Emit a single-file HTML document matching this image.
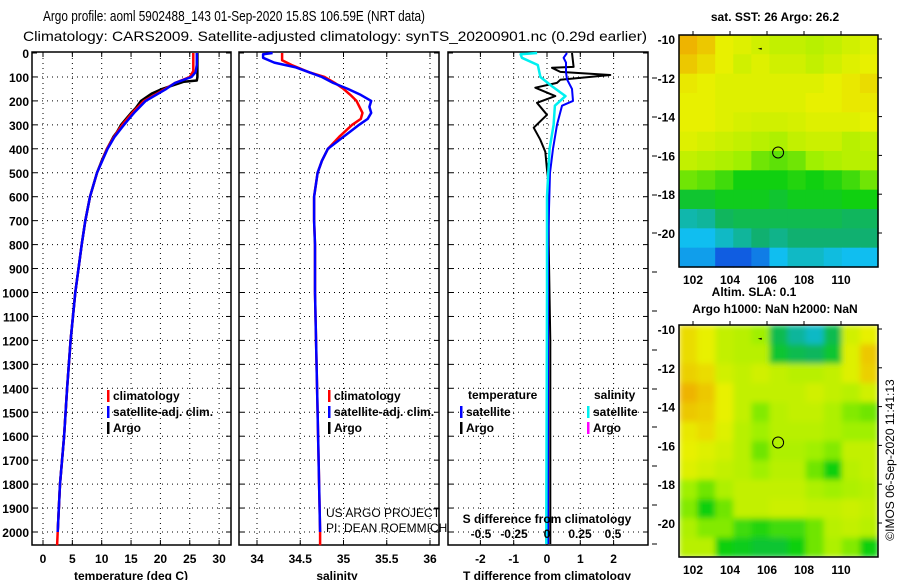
<!DOCTYPE html>
<html><head><meta charset="utf-8"><style>
html,body{margin:0;padding:0;background:#fff;}
svg{display:block;font-family:"Liberation Sans",sans-serif;}
.t{font-size:12px;font-weight:bold;fill:#000;}
</style></head><body>
<svg id="s" width="900" height="580" viewBox="0 0 900 580" xmlns="http://www.w3.org/2000/svg">
<defs>
<filter id="blur" x="0" y="0" width="1" height="1"><feGaussianBlur stdDeviation="3" edgeMode="duplicate"/></filter>
<clipPath id="clip2"><rect x="679" y="325" width="199" height="232"/></clipPath>
</defs>
<text x="234" y="21" text-anchor="middle" font-size="15" textLength="382" lengthAdjust="spacingAndGlyphs">Argo profile: aoml 5902488_143 01-Sep-2020 15.8S 106.59E (NRT data)</text>
<text x="335" y="41" text-anchor="middle" font-size="14" textLength="624" lengthAdjust="spacingAndGlyphs">Climatology: CARS2009. Satellite-adjusted climatology: synTS_20200901.nc (0.29d earlier)</text>
<g id="g"></g>
</svg>
<script>
// ---------- data ----------
const depthTicks=[0,100,200,300,400,500,600,700,800,900,1000,1100,1200,1300,1400,1500,1600,1700,1800,1900,2000];
const tempTicks=[0,5,10,15,20,25,30];
const salTicks=[34,34.5,35,35.5,36];
const tdiffTicks=[-2,-1,0,1,2];
const sdiffTicks=[-0.5,-0.25,0,0.25,0.5];
const tClimDepth=[0,75,100,125,150,200,250,300,350,400,500,600,700,800,1000,1200,1400,1600,1800,2000,2055];
const tClim=[25.6,25.6,25.0,22.5,20.8,17.2,15.2,13.5,12.1,10.9,9.2,8.0,7.2,6.6,5.5,4.7,4.1,3.6,2.9,2.5,2.4];
const tSatDepth=[0,50,80,100,125,150,200,250,300,350,400,500,600,700,800,1000,1200,1400,1600,1800,2000];
const tSat=[26.2,26.2,26.0,25.3,22.5,21.0,17.5,15.5,13.8,12.2,11.0,9.2,8.0,7.2,6.6,5.5,4.7,4.1,3.6,2.9,2.5];
const tArgoDepth=[0,100,115,120,150,170,200,230,250,300,330,350,400,450,500,600,700,800,1000,1200,1400,1600,1800,2000];
const tArgo=[26.3,26.3,26.2,24.0,20.3,18.5,16.7,15.8,15.0,13.3,12.6,12.0,10.9,10.0,9.2,8.0,7.2,6.6,5.5,4.7,4.1,3.6,2.9,2.5];
const sClimDepth=[0,30,50,80,100,125,150,175,200,250,275,300,350,400,450,500,600,700,800,1000,1500,2000,2055];
const sClim=[34.29,34.29,34.4,34.6,34.78,34.9,35.0,35.08,35.15,35.22,35.2,35.1,34.95,34.82,34.75,34.7,34.66,34.66,34.67,34.67,34.7,34.73,34.73];
const sSatDepth=[0,5,20,40,60,80,100,125,150,175,200,225,250,275,300,350,400,450,500,600,700,800,1000,1500,2000];
const sSat=[34.18,34.07,34.07,34.2,34.45,34.6,34.75,34.88,35.05,35.2,35.32,35.3,35.32,35.28,35.18,35.0,34.82,34.75,34.7,34.66,34.66,34.67,34.67,34.7,34.73];
const dTArgoDepth=[0,58,62,79,92,112,125,145,180,208,258,312,362,412,487,550,800,1200,1600,2000,2050];
const dTArgo=[0.75,0.8,0.15,0.4,1.9,0.4,0.3,-0.35,0.25,-0.3,0,-0.4,-0.2,-0.05,0,0.05,0.05,0.1,0.1,0.1,0.1];
const dTSatDepth=[0,20,40,80,110,150,200,220,300,400,500,800,1200,2000,2050];
const dTSat=[0.6,0.5,0.57,0.57,0.6,0.75,0.78,0.45,0.3,0.18,0.09,0.03,0.03,0.03,0.03];
const dSSatDepth=[0,5,20,50,100,140,180,220,300,400,600,1000,2000,2050];
const dSSat=[-0.075,-0.2,-0.19,-0.07,-0.05,0.04,0.14,0.06,0.05,0.02,0.0,0.0,-0.005,-0.005];
const sstGrid=[
[0.95,0.9,0.8,0.78,0.75,0.72,0.72,0.7,0.72,0.75,0.78],
[0.9,0.85,0.8,0.75,0.78,0.75,0.75,0.72,0.75,0.78,0.8],
[0.82,0.8,0.78,0.78,0.78,0.78,0.78,0.78,0.8,0.82,0.85],
[0.8,0.8,0.78,0.78,0.78,0.78,0.78,0.8,0.8,0.82,0.82],
[0.8,0.8,0.78,0.76,0.75,0.75,0.76,0.78,0.78,0.78,0.8],
[0.78,0.76,0.74,0.72,0.7,0.68,0.72,0.74,0.74,0.7,0.72],
[0.72,0.7,0.68,0.65,0.6,0.58,0.6,0.65,0.68,0.7,0.7],
[0.6,0.58,0.55,0.5,0.5,0.5,0.52,0.5,0.52,0.55,0.6],
[0.45,0.45,0.48,0.48,0.48,0.45,0.48,0.48,0.48,0.5,0.5],
[0.28,0.3,0.38,0.4,0.4,0.4,0.4,0.4,0.4,0.38,0.38],
[0.2,0.2,0.25,0.3,0.35,0.32,0.35,0.35,0.35,0.35,0.35],
[0.15,0.15,0.05,0.05,0.1,0.2,0.25,0.25,0.22,0.2,0.2]];
const slaGrid=[
[0.85,0.8,0.72,0.7,0.65,0.4,0.3,0.25,0.4,0.75,0.8],
[0.85,0.8,0.72,0.7,0.7,0.45,0.4,0.38,0.45,0.78,0.9],
[0.88,0.85,0.75,0.72,0.75,0.72,0.7,0.7,0.72,0.78,0.88],
[0.95,0.9,0.8,0.72,0.72,0.72,0.72,0.75,0.72,0.7,0.75],
[0.9,0.88,0.8,0.72,0.62,0.7,0.72,0.72,0.68,0.62,0.6],
[0.82,0.85,0.78,0.7,0.65,0.7,0.7,0.7,0.68,0.65,0.65],
[0.8,0.78,0.75,0.7,0.6,0.68,0.68,0.65,0.62,0.72,0.72],
[0.78,0.75,0.72,0.7,0.65,0.7,0.7,0.6,0.5,0.7,0.72],
[0.65,0.6,0.68,0.72,0.72,0.72,0.72,0.68,0.65,0.68,0.7],
[0.62,0.5,0.6,0.72,0.72,0.74,0.74,0.72,0.72,0.74,0.72],
[0.68,0.62,0.62,0.55,0.52,0.55,0.55,0.6,0.7,0.72,0.7],
[0.7,0.7,0.5,0.48,0.45,0.45,0.5,0.6,0.68,0.62,0.5]];
const lonTicks=[102,104,106,108,110];
const latTicks=[-10,-12,-14,-16,-18,-20];
const argoLon=106.6, argoLat=-15.85;

// ---------- helpers ----------
const NS="http://www.w3.org/2000/svg";
const G=document.getElementById('g');
function mk(tag,attrs,parent,text){const e=document.createElementNS(NS,tag);for(const k in attrs)e.setAttribute(k,attrs[k]);if(text!==undefined)e.textContent=text;(parent||G).appendChild(e);return e;}
const TOP=53, PB=545;
const yD=d=>TOP+d*0.2395;
const panels=[{l:32,r:231},{l:239,r:439},{l:448,r:648}];
const xT=v=>43+v*5.87;
const xS=v=>257+(v-34)*86.5;
const xDT=v=>547+v*33.3;
const xDS=v=>547+v*132;

function panel(p,name,xTickVals,xf){
  const g=mk('g',{});
  
  
  depthTicks.forEach(d=>{if(d>0){mk('line',{x1:p.l,x2:p.r,y1:yD(d),y2:yD(d),stroke:'#000','stroke-width':1,'stroke-dasharray':'1 4'},g);}
    mk('line',{x1:p.l,x2:p.l+5,y1:yD(d),y2:yD(d),stroke:'#000'},g);
    mk('line',{x1:p.r-5,x2:p.r,y1:yD(d),y2:yD(d),stroke:'#000'},g);});
  xTickVals.forEach(v=>{const x=xf(v);
    mk('line',{x1:x,x2:x,y1:TOP,y2:PB,stroke:'#000','stroke-dasharray':'1 4'},g);
    mk('line',{x1:x,x2:x,y1:PB-5,y2:PB,stroke:'#000'},g);
    mk('line',{x1:x,x2:x,y1:TOP-1,y2:TOP+4,stroke:'#000'},g);});
  mk('rect',{x:p.l,y:TOP-1,width:p.r-p.l,height:PB-TOP+1,fill:'none',stroke:'#000','stroke-width':1.5},g);
  return g;
}
function line(g,xs,ds,xf,color,name,w){
  const pts=xs.map((v,i)=>xf(v).toFixed(1)+','+yD(ds[i]).toFixed(1)).join(' ');
  const e=mk('polyline',{points:pts,fill:'none',stroke:color,'stroke-width':w||2.5,'stroke-linejoin':'round'},g);
  
  
}
depthTicks.forEach(d=>{mk('text',{x:29,y:yD(d)+5,'text-anchor':'end',class:'t'},G,String(d));});

const g1=panel(panels[0],'temperature-panel',tempTicks,xT);
line(g1,tArgo,tArgoDepth,xT,'#000','argo-temperature-line',2.5);
line(g1,tClim,tClimDepth,xT,'#f00','climatology-temperature-line',2.5);
line(g1,tSat,tSatDepth,xT,'#0000ff','satellite-temperature-line',2.5);
tempTicks.forEach(v=>mk('text',{x:xT(v),y:563,'text-anchor':'middle',class:'t'},G,String(v)));
mk('text',{x:131,y:580,'text-anchor':'middle',class:'t'},G,'temperature (deg C)');

const g2=panel(panels[1],'salinity-panel',salTicks,xS);
line(g2,sClim,sClimDepth,xS,'#f00','climatology-salinity-line',2.5);
line(g2,sSat,sSatDepth,xS,'#0000ff','satellite-salinity-line',2.5);
salTicks.forEach(v=>mk('text',{x:xS(v),y:563,'text-anchor':'middle',class:'t'},G,String(v)));
mk('text',{x:337,y:580,'text-anchor':'middle',class:'t'},G,'salinity');

const g3=panel(panels[2],'difference-panel',tdiffTicks,xDT);
line(g3,dTArgo,dTArgoDepth,xDT,'#000','argo-t-difference-line',2);
line(g3,dTSat,dTSatDepth,xDT,'#0000ff','satellite-t-difference-line',2);
line(g3,dSSat,dSSatDepth,xDS,'#00f0f0','satellite-s-difference-line',2.5);
tdiffTicks.forEach(v=>mk('text',{x:xDT(v),y:563,'text-anchor':'middle',class:'t'},G,String(v)));
sdiffTicks.forEach(v=>mk('text',{x:xDS(v),y:538,'text-anchor':'middle',class:'t'},G,String(v)));
mk('text',{x:547,y:523,'text-anchor':'middle',class:'t'},G,'S difference from climatology');
mk('text',{x:547,y:580,'text-anchor':'middle',class:'t'},G,'T difference from climatology');
[78,117,156,195,233,272,311,350,389,427,466,505,544].forEach(y=>mk('line',{x1:652,x2:657,y1:y,y2:y,stroke:'#000'},G));

function leg(x,y,color,label,name){
  const g=mk('g',{});
  
  
  mk('rect',{x:x,y:y-10,width:2.5,height:12,fill:color},g);
  if(label)mk('text',{x:x+6,y:y,class:'t'},g,label);
}
leg(107,400,'#f00','climatology','legend-climatology');
leg(107,416,'#0000ff','satellite-adj. clim.','legend-satellite-adj');
leg(107,432,'#000','Argo','legend-argo');
leg(328,400,'#f00','climatology','legend-climatology-sal');
leg(328,416,'#0000ff','satellite-adj. clim.','legend-satellite-adj-sal');
leg(328,432,'#000','Argo','legend-argo-sal');
mk('text',{x:468,y:399,class:'t'},G,'temperature');
mk('text',{x:594,y:399,class:'t'},G,'salinity');
leg(460,416,'#0000ff','satellite','legend-t-satellite');
leg(460,432,'#000','Argo','legend-t-argo');
leg(587,416,'#00f0f0','satellite','legend-s-satellite');
leg(587,432,'#ff00ff','Argo','legend-s-argo');
mk('text',{x:326,y:517,'font-size':12,fill:'#000'},G,'US ARGO PROJECT');
mk('text',{x:326,y:532,'font-size':12,fill:'#000'},G,'PI: DEAN ROEMMICH');

// ---------- maps ----------
const stops=[[0,[16,60,220]],[0.2,[16,190,240]],[0.35,[16,176,112]],[0.5,[16,208,16]],[0.65,[160,240,0]],[0.8,[232,240,0]],[1,[240,160,0]]];
function cmap(v){for(let i=1;i<stops.length;i++){if(v<=stops[i][0]){const a=stops[i-1],b=stops[i],t=(v-a[0])/(b[0]-a[0]);return 'rgb('+a[1].map((c,k)=>Math.round(c+(b[1][k]-c)*t)).join(',')+')';}}return 'rgb(240,160,0)';}
function map(y0,grid,name,smooth){
  const L=679,R=878,T=y0,B=y0+232;
  const xL=lon=>693+(lon-102)*18.5;
  const yL=lat=>T+4+(-10-lat)*19.4;
  const g=mk('g',{});
  
  
  let cg=g;
  if(smooth){const w=mk('g',{'clip-path':'url(#clip2)'},g);cg=mk('g',{filter:'url(#blur)'},w);}
  const rows=grid.length, cols=grid[0].length;
  const cw=(R-L)/cols, ch=(B-T)/rows;
  grid.forEach((row,i)=>row.forEach((v,j)=>{
    const c=mk('rect',{x:(L+j*cw).toFixed(2),y:(T+i*ch).toFixed(2),width:(cw+0.6).toFixed(2),height:(ch+0.6).toFixed(2),fill:cmap(v)},cg);
    
    
  }));
  mk('rect',{x:L,y:T,width:R-L,height:B-T,fill:'none',stroke:'#000','stroke-width':1.5},g);
  lonTicks.forEach(v=>{mk('line',{x1:xL(v),x2:xL(v),y1:T-4,y2:T,stroke:'#000'},g);mk('text',{x:xL(v),y:B+17,'text-anchor':'middle',class:'t'},g,String(v));});
  latTicks.forEach(v=>{mk('line',{x1:R,x2:R+4,y1:yL(v),y2:yL(v),stroke:'#000'},g);mk('text',{x:675,y:yL(v)+5,'text-anchor':'end',class:'t'},g,String(v));});
  const c=mk('circle',{cx:xL(argoLon),cy:yL(argoLat),r:5.5,fill:'none',stroke:'#000','stroke-width':1},g);
  
  
  mk('path',{d:`M${xL(105.5)} ${yL(-10.5)} l4 -1 l0 2 z`,fill:'#000'},g);
}
map(35,sstGrid,'sst-map',false);
map(325,slaGrid,'sla-map',true);
mk('text',{x:775,y:21,'text-anchor':'middle',class:'t'},G,'sat. SST: 26 Argo: 26.2');
mk('text',{x:754,y:296,'text-anchor':'middle',class:'t'},G,'Altim. SLA: 0.1');
mk('text',{x:775,y:313,'text-anchor':'middle',class:'t'},G,'Argo h1000: NaN h2000: NaN');
mk('text',{x:894,y:460,'text-anchor':'middle','font-size':12,transform:'rotate(-90 894 460)'},G,'©IMOS 06-Sep-2020 11:41:13');
</script>
</body></html>
